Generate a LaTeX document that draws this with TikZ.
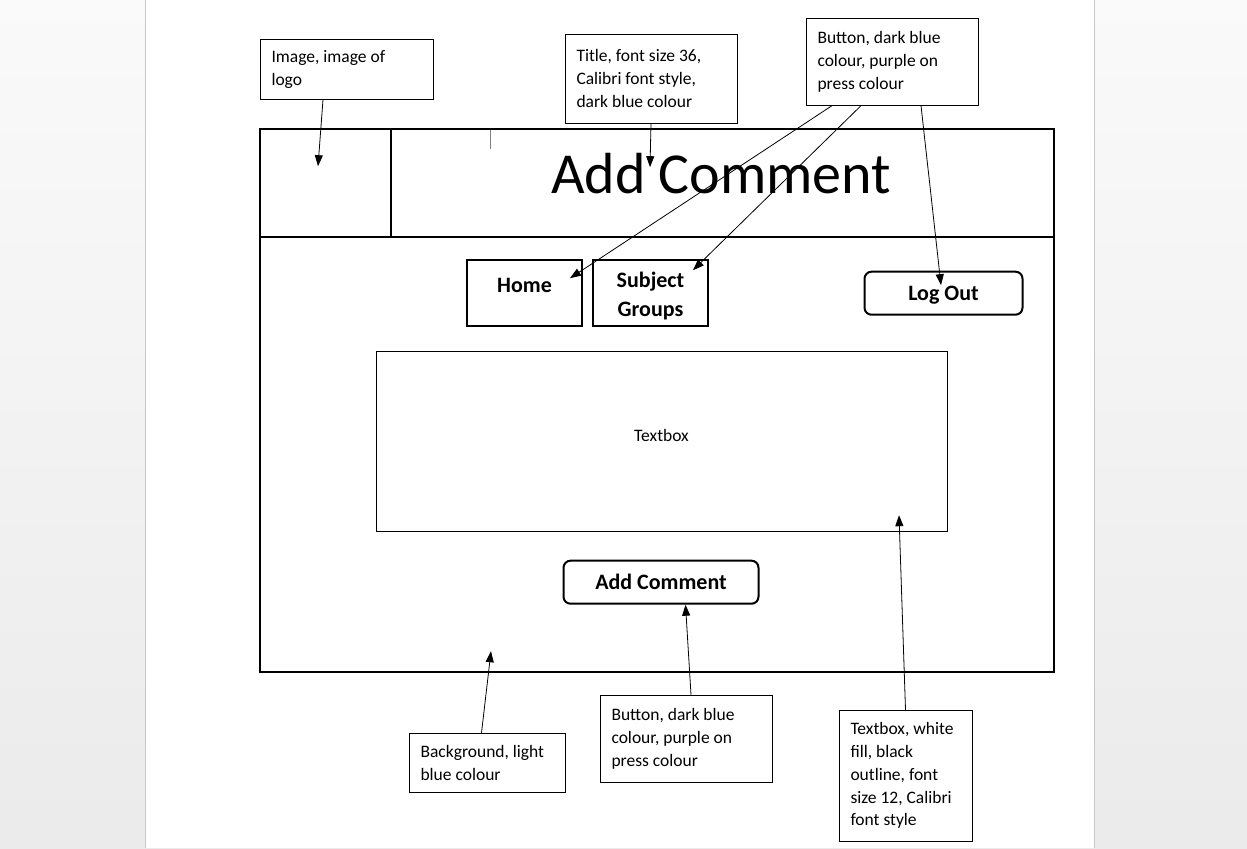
\documentclass[tikz,border=0pt]{standalone}
\usepackage{fontspec}
\setmainfont{Carlito}
\usetikzlibrary{arrows.meta}
\tikzset{
note/.style={draw, line width=0.9pt, rectangle, inner xsep=11.5pt, inner ysep=0pt, align=flush left,
  font=\fontsize{17.5}{22.8}\selectfont},
navbox/.style={draw, line width=2pt, align=center, font=\bfseries\fontsize{22}{28}\selectfont},
roundbox/.style={draw, line width=2pt, rounded corners=7pt, font=\bfseries\fontsize{22}{28}\selectfont},
pointer/.style={line width=0.8pt, -{Triangle[length=11pt,width=8pt]}}
}

\begin{document}
\begin{tikzpicture}[x=1pt,y=-1pt]
\shade[top color=white!98!black, bottom color=white!92!black] (0,0) rectangle (1247,848);
\fill[white] (146,0) rectangle (1094,848);
\draw[white!78!black] (145.5,0) -- (145.5,848);
\draw[white!78!black] (1094.5,0) -- (1094.5,848);
\useasboundingbox (0,0) rectangle (1247,848);

\draw[line width=2.4pt] (260,129) rectangle (1054,672);
\draw[line width=2.4pt] (260,237) -- (1054,237);
\draw[line width=2.4pt] (391,129) -- (391,237);
\draw[gray, line width=0.6pt] (490,130) -- (490,149);

\node[anchor=base, font=\fontsize{58}{60}\selectfont] (title) at (721,193) {Add Comment};
\node[navbox, minimum width=115pt, minimum height=66pt, text height=14pt, text depth=14pt] (home) at (524.5,292.5) {Home};
\node[navbox, minimum width=115pt, minimum height=66pt, text height=48pt, text depth=0pt] (subject) at (650.5,292.5) {Subject\\[1pt]Groups};
\node[roundbox, minimum width=158pt, minimum height=43pt, text depth=0pt] (logout) at (943.5,293) {Log Out};
\node[draw, line width=0.9pt, minimum width=571pt, minimum height=180pt, text height=12pt, text depth=12pt,
  font=\fontsize{17.5}{21}\selectfont] (textbox) at (661.5,441) {Textbox};
\node[roundbox, minimum width=195pt, minimum height=43pt] (addbtn) at (661,582) {Add Comment};

\node[note, minimum width=173pt, minimum height=60pt, text width=150pt] (logonote) at (346.5,69) {Image, image of\\logo};
\node[note, minimum width=172pt, minimum height=89pt, text width=149pt] (titlenote) at (651,78.5) {Title, font size 36,\\Calibri font style,\\dark blue colour};
\node[note, minimum width=172pt, minimum height=87pt, text width=149pt] (btnnote) at (892,61.5) {Button, dark blue\\colour, purple on\\press colour};
\node[note, minimum width=156pt, minimum height=59pt, text width=133pt] (bgnote) at (487,762.5) {Background, light\\blue colour};
\node[note, minimum width=172pt, minimum height=87pt, text width=149pt] (addnote) at (686,738.5) {Button, dark blue\\colour, purple on\\press colour};
\node[note, minimum width=133pt, minimum height=131pt, text width=110pt] (boxnote) at (905.5,775.5) {Textbox, white\\fill, black\\outline, font\\size 12, Calibri\\font style};

\coordinate (logotip) at (318,166);
\coordinate (titletip) at (650,167);
\coordinate (hometip) at (570,278);
\coordinate (subjtip) at (693,270);
\coordinate (logouttip) at (941,285);
\coordinate (bgtip) at (491,651);
\coordinate (boxtip) at (899,515);

\draw[pointer] ([xshift=-23.5pt]logonote.south) -- (logotip);
\draw[pointer] (titlenote.south) -- (titletip);
\draw[pointer] ([xshift=-60pt]btnnote.south) -- (hometip);
\draw[pointer] ([xshift=-31pt]btnnote.south) -- (subjtip);
\draw[pointer] ([xshift=29pt]btnnote.south) -- (logouttip);
\draw[pointer] ([xshift=-5.5pt]bgnote.north) -- (bgtip);
\draw[pointer] ([xshift=5pt]addnote.north) -- ([xshift=24.5pt]addbtn.south);
\draw[pointer] (boxnote.north) -- (boxtip);
\end{tikzpicture}
\end{document}
